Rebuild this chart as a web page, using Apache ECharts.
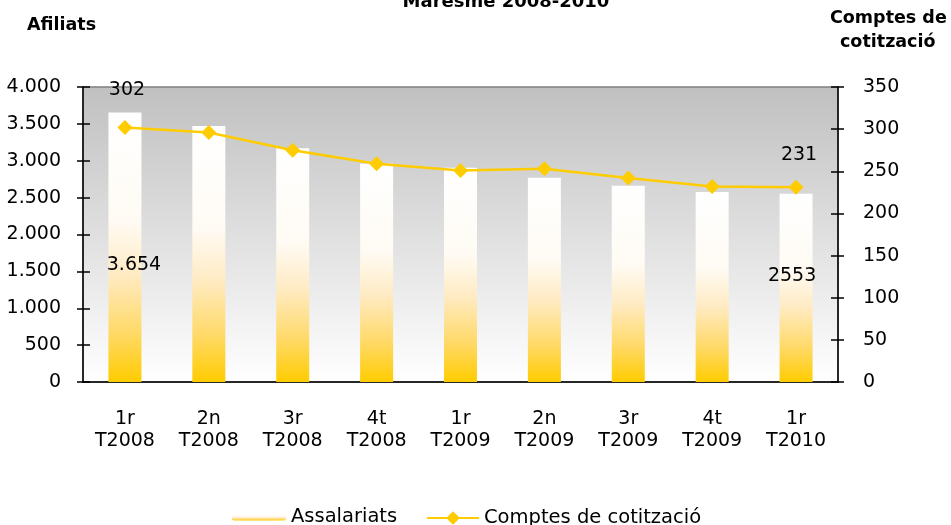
<!DOCTYPE html>
<html>
<head>
<meta charset="utf-8">
<script src="https://cdn.jsdelivr.net/npm/echarts@6/dist/echarts.min.js"></script>
<style>
    html, body { margin: 0; padding: 0; background: #fff; }
    #chart { width: 951px; height: 525px; }
</style>
</head>
<body>
<div id="chart"></div>
<script>
var categories = ['1r\nT2008', '2n\nT2008', '3r\nT2008', '4t\nT2008', '1r\nT2009', '2n\nT2009', '3r\nT2009', '4t\nT2009', '1r\nT2010'];
var assalariats = [3654, 3470, 3170, 2960, 2905, 2770, 2660, 2575, 2553];
var comptes = [302, 296, 275, 259, 251, 253, 242, 232, 231];
var barLabels = {0: '3.654', 8: '2553'};
var lineLabels = {0: '302', 8: '231'};

var font = 'DejaVu Sans';

function milers(v){
    return String(v).replace(/\B(?=(\d{3})+(?!\d))/g, '.');
}

var barData = assalariats.map(function(v, i){
    if (barLabels[i] === undefined) return v;
    return {
        value: v,
        label: {
            show: true,
            position: 'inside',
            offset: i === 0 ? [9, 18] : [-4, -12],
            formatter: barLabels[i]
        }
    };
});

var lineData = comptes.map(function(v, i){
    if (lineLabels[i] === undefined) return v;
    return {
        value: v,
        label: {
            show: true,
            position: 'top',
            distance: i === 0 ? 20 : 15,
            offset: i === 0 ? [2, 0] : [3, 0],
            formatter: lineLabels[i]
        }
    };
});

var chart = echarts.init(document.getElementById('chart'));

chart.setOption({
    animation: false,
    textStyle: { fontFamily: font },
    title: {
        text: 'Maresme 2008-2010',
        left: 501,
        textAlign: 'center',
        top: -12,
        textStyle: { fontFamily: font, fontSize: 18, fontWeight: 'bold', color: '#000' }
    },
    graphic: [
        { type: 'text', left: 27, top: 16, style: { text: 'Afiliats', font: 'bold 17.5px DejaVu Sans', fill: '#000' } },
        { type: 'text', left: 830, top: 9, style: { text: 'Comptes de', font: 'bold 17.5px DejaVu Sans', fill: '#000' } },
        { type: 'text', left: 840, top: 33, style: { text: 'cotització', font: 'bold 17.5px DejaVu Sans', fill: '#000' } }
    ],
    grid: {
        left: 83,
        right: 113,
        top: 87,
        bottom: 143,
        show: true,
        borderColor: '#808080',
        borderWidth: 1.5,
        backgroundColor: new echarts.graphic.LinearGradient(0, 0, 0, 1, [
            { offset: 0, color: '#c0c0c0' },
            { offset: 1, color: '#ffffff' }
        ])
    },
    legend: [
        {
            left: 227,
            top: 502,
            itemWidth: 54,
            itemHeight: 7,
            textStyle: { fontFamily: font, fontSize: 19.5, color: '#000' },
            data: ['Assalariats']
        },
        {
            left: 421,
            top: 503,
            itemWidth: 52,
            itemHeight: 17,
            textStyle: { fontFamily: font, fontSize: 19.5, color: '#000' },
            data: ['Comptes de cotització']
        }
    ],
    xAxis: [
        {
            type: 'category',
            data: categories,
            position: 'bottom',
            axisLine: { lineStyle: { color: '#000', width: 1.5 } },
            axisTick: { length: 6, lineStyle: { color: '#000', width: 1.5 } },
            axisLabel: { margin: 26, fontSize: 19, lineHeight: 22, color: '#000', fontFamily: font }
        },
        {
            type: 'category',
            data: categories,
            position: 'bottom',
            axisLine: { show: false },
            axisTick: { inside: true, length: 6, lineStyle: { color: '#000', width: 1.5 } },
            axisLabel: { show: false }
        }
    ],
    yAxis: [
        {
            type: 'value',
            position: 'left',
            min: 0,
            max: 4000,
            interval: 500,
            splitLine: { show: false },
            axisLine: { show: true, lineStyle: { color: '#000', width: 1.5 } },
            axisTick: { show: true, length: 6, lineStyle: { color: '#000', width: 1.5 } },
            axisLabel: { margin: 22, fontSize: 19, color: '#000', fontFamily: font, formatter: milers }
        },
        {
            type: 'value',
            position: 'right',
            min: 0,
            max: 350,
            interval: 50,
            splitLine: { show: false },
            axisLine: { show: true, lineStyle: { color: '#000', width: 1.5 } },
            axisTick: { show: true, length: 6, lineStyle: { color: '#000', width: 1.5 } },
            axisLabel: { margin: 25, fontSize: 19, color: '#000', fontFamily: font }
        },
        {
            type: 'value',
            position: 'left',
            min: 0,
            max: 4000,
            interval: 500,
            splitLine: { show: false },
            axisLine: { show: false },
            axisTick: { show: true, inside: true, length: 7, lineStyle: { color: '#000', width: 1.5 } },
            axisLabel: { show: false }
        },
        {
            type: 'value',
            position: 'right',
            min: 0,
            max: 350,
            interval: 50,
            splitLine: { show: false },
            axisLine: { show: false },
            axisTick: { show: true, inside: true, length: 7, lineStyle: { color: '#000', width: 1.5 } },
            axisLabel: { show: false }
        }
    ],
    series: [
        {
            name: 'Assalariats',
            type: 'bar',
            xAxisIndex: 0,
            yAxisIndex: 0,
            barWidth: 33,
            data: barData,
            label: { fontSize: 19, color: '#000', fontFamily: font },
            itemStyle: {
                color: new echarts.graphic.LinearGradient(0, 0, 0, 1, [
                    { offset: 0, color: '#ffffff' },
                    { offset: 0.4, color: '#fffbf4' },
                    { offset: 0.6, color: '#ffebc4' },
                    { offset: 0.82, color: '#ffd966' },
                    { offset: 1, color: '#ffcc00' }
                ])
            }
        },
        {
            name: 'Comptes de cotització',
            type: 'line',
            xAxisIndex: 0,
            yAxisIndex: 1,
            data: lineData,
            symbol: 'diamond',
            symbolSize: 15,
            z: 5,
            label: { fontSize: 19, color: '#000', fontFamily: font },
            lineStyle: { color: '#ffcc00', width: 2.5 },
            itemStyle: { color: '#ffcc00' }
        }
    ]
});
</script>
</body>
</html>
